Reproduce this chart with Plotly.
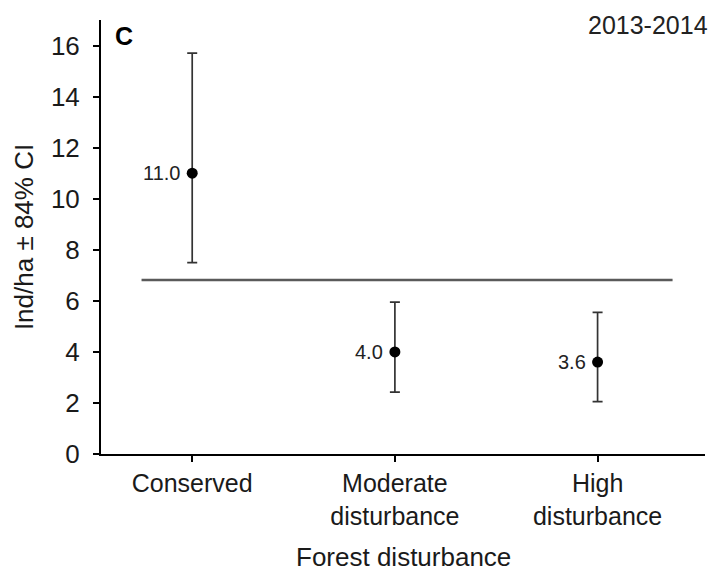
import plotly.graph_objects as go

# Forest disturbance categories and density estimates (individuals/ha)
categories = ["Conserved", "Moderate<br>disturbance", "High<br>disturbance"]
density = [11.0, 4.0, 3.6]
ci_upper = [15.7, 5.95, 5.55]
ci_lower = [7.5, 2.42, 2.05]
value_labels = ["11.0", "4.0", "3.6"]
overall_mean = 6.82
y_ticks = [0, 2, 4, 6, 8, 10, 12, 14, 16]

x_pos = list(range(len(categories)))
err_plus = [u - d for u, d in zip(ci_upper, density)]
err_minus = [d - l for d, l in zip(density, ci_lower)]

FONT = "Liberation Sans, Arial, sans-serif"
TXT = "#1a1a1a"

fig = go.Figure()

# Overall mean reference line
fig.add_trace(go.Scatter(
    x=[-0.25, 2.37], y=[overall_mean, overall_mean],
    mode="lines", line=dict(color="#5a5a5a", width=2.5),
    hoverinfo="skip", showlegend=False,
))

# Point estimates with 84% confidence intervals
fig.add_trace(go.Scatter(
    x=x_pos, y=density, mode="markers",
    marker=dict(color="black", size=11),
    error_y=dict(type="data", symmetric=False, array=err_plus,
                 arrayminus=err_minus, color="#333333", thickness=1.7, width=5),
    showlegend=False,
))

for xp, yv, lab in zip(x_pos, density, value_labels):
    fig.add_annotation(x=xp, y=yv, text=lab, showarrow=False,
                       xanchor="right", xshift=-10,
                       font=dict(family=FONT, size=20, color="#222222"))

# Axis title for the categorical axis
fig.add_annotation(x=0.5, y=0, xref="paper", yref="paper", text="Forest disturbance",
                   showarrow=False, xanchor="center", yanchor="middle", yshift=-103,
                   font=dict(family=FONT, size=26, color=TXT))

fig.add_annotation(x=0.02, y=1.0, xref="paper", yref="paper", text="<b>C</b>",
                   showarrow=False, xanchor="left", yanchor="top", yshift=0,
                   font=dict(family=FONT, size=25, color="black"))
fig.add_annotation(x=1.0, y=1.0, xref="paper", yref="paper", text="2013-2014",
                   showarrow=False, xanchor="right", yanchor="top", yshift=11, xshift=5,
                   font=dict(family=FONT, size=25, color="#222222"))

fig.update_layout(
    width=715, height=571,
    margin=dict(l=101, r=10, t=20, b=117),
    paper_bgcolor="white", plot_bgcolor="white",
    font=dict(family=FONT, color=TXT),
    xaxis=dict(
        range=[-0.45, 2.53], tickmode="array", tickvals=x_pos, ticktext=categories,
        automargin=False,
        showgrid=False, zeroline=False, showline=True, linecolor="black", linewidth=2,
        ticks="outside", ticklen=6, tickwidth=2, tickcolor="black",
        tickfont=dict(size=25, family=FONT, color=TXT),
    ),
    yaxis=dict(
        range=[0, 17], tickmode="array", tickvals=y_ticks, automargin=False,
        showgrid=False, zeroline=False, showline=True, linecolor="black", linewidth=2,
        ticks="outside", ticklen=6, tickwidth=2, tickcolor="black",
        ticklabelstandoff=8,
        tickfont=dict(size=26, family=FONT, color=TXT),
        title=dict(text="Ind/ha ± 84% CI", font=dict(size=26, family=FONT, color=TXT),
                   standoff=10),
    ),
)

fig.write_html("out.html")
